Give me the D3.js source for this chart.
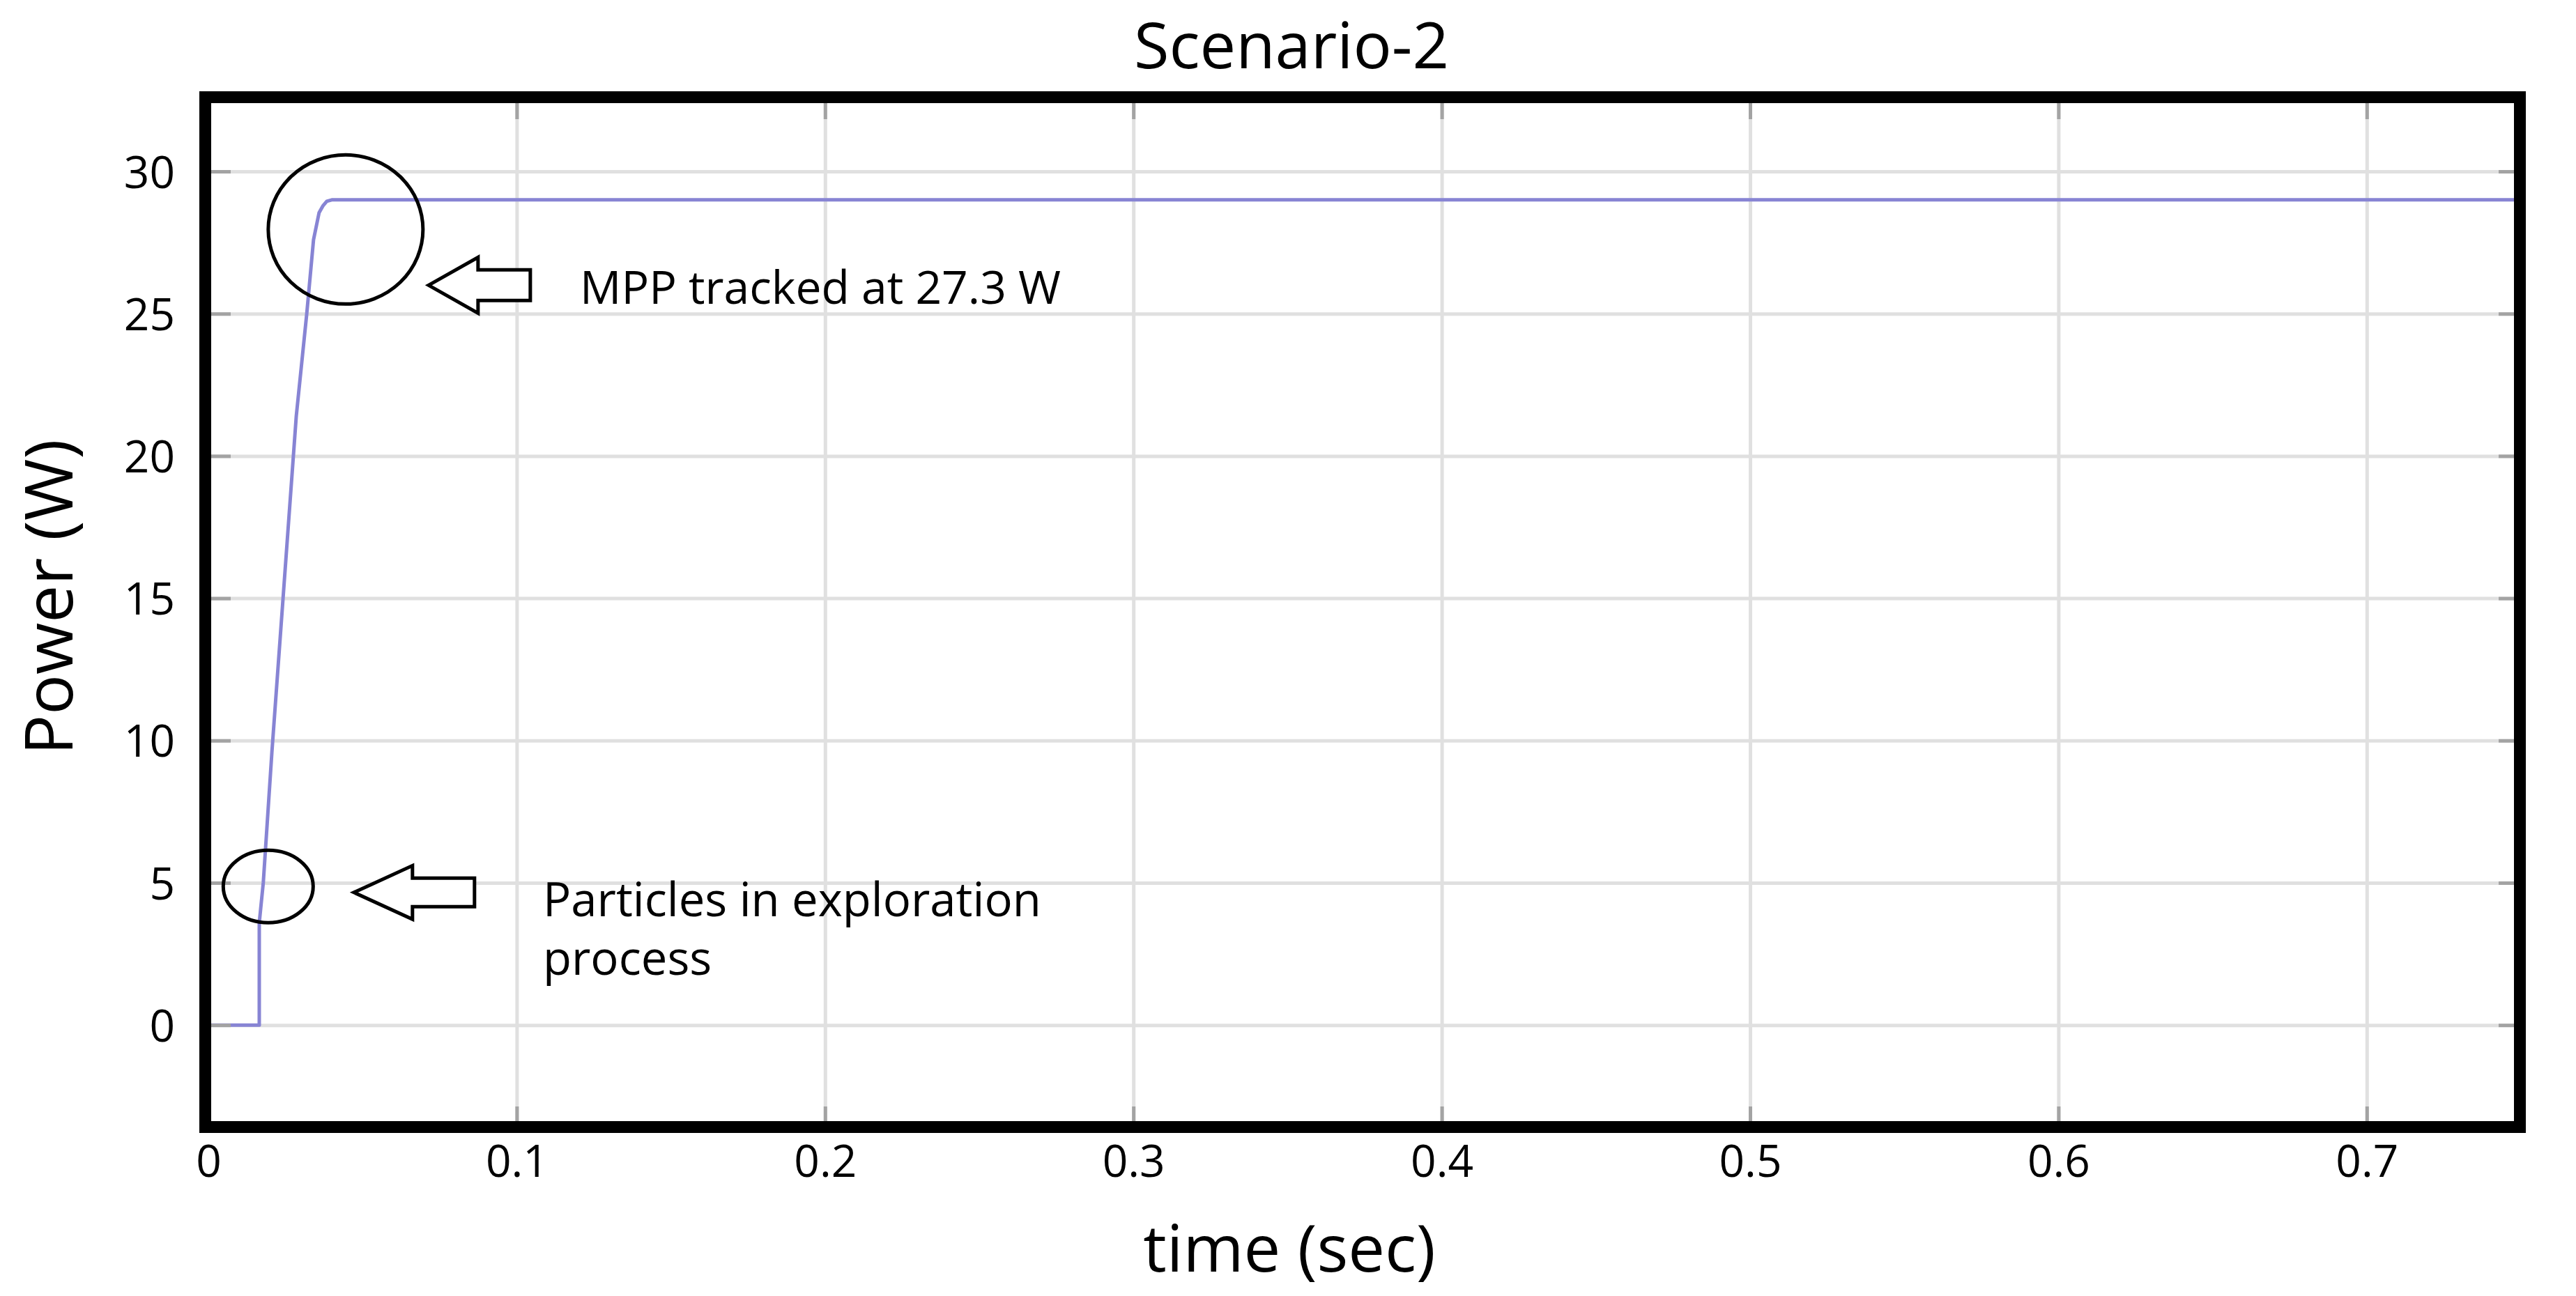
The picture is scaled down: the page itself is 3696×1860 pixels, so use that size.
<!DOCTYPE html>
<html>
<head>
<meta charset="utf-8">
<script src="https://cdn.jsdelivr.net/npm/d3@7"></script>
<style>
  html, body { margin: 0; padding: 0; background: #fff; }
  svg { display: block; font-family: 'Open Sans', sans-serif; }
</style>
</head>
<body>
<svg id="chart" width="3696" height="1860"></svg>
<script>
// power trace
const time = [0, 0.0165, 0.0165, 0.0178, 0.0206, 0.0285, 0.0319, 0.0341, 0.0359, 0.0372, 0.0384, 0.0400, 0.75]
const power = [0, 0, 3.6, 5.0, 9.6, 21.4, 25.0, 27.6, 28.55, 28.8, 28.95, 29.0, 29.0]

const xTicks = [0, 0.1, 0.2, 0.3, 0.4, 0.5, 0.6, 0.7]
const yTicks = [0, 5, 10, 15, 20, 25, 30]

// annotations (data coords)
const markT = [0.0445, 0.0194]
const markP = [27.96, 4.87]
const arrowT = [0.0714, 0.0472]
const arrowP = [26.0, 4.66]
const noteT = [0.1205, 0.1085]
const noteP = [25.34, 3.82]
const noteLines = [['MPP tracked at 27.3 W'], ['Particles in exploration', 'process']]

const svg = d3.select('#chart')

const x = d3.scaleLinear().domain([0, 0.75]).range([299, 3617])
const y = d3.scaleLinear().domain([-3.4, 32.4]).range([1610, 148])

const gridColor = '#e0e0e0'
const tickColor = '#a3a3a3'

svg.append('defs').append('clipPath').attr('id', 'plot-clip')
  .append('rect').attr('x', 303).attr('y', 148).attr('width', 3304).attr('height', 1462)

const plot = svg.append('g').attr('clip-path', 'url(#plot-clip)')

// grid
plot.append('g')
  .attr('transform', `translate(0,${y.range()[0]})`)
  .call(d3.axisBottom(x).tickValues(xTicks).tickSize(-(y.range()[0] - y.range()[1])).tickFormat(''))
  .call(g => g.select('.domain').remove())
  .call(g => g.selectAll('line').attr('stroke', gridColor).attr('stroke-width', 5))

plot.append('g')
  .attr('transform', `translate(${x.range()[0]},0)`)
  .call(d3.axisLeft(y).tickValues(yTicks).tickSize(-(x.range()[1] - x.range()[0])).tickFormat(''))
  .call(g => g.select('.domain').remove())
  .call(g => g.selectAll('line').attr('stroke', gridColor).attr('stroke-width', 5))

// inner ticks on all four sides
const tickStyle = g => {
  g.select('.domain').remove()
  g.selectAll('line').attr('stroke', tickColor).attr('stroke-width', 5)
}

plot.append('g')
  .attr('transform', `translate(0,${y.range()[1]})`)
  .call(d3.axisTop(x).tickValues(xTicks).tickSize(-23).tickFormat(''))
  .call(tickStyle)

plot.append('g')
  .attr('transform', `translate(${x.range()[1]},0)`)
  .call(d3.axisRight(y).tickValues(yTicks).tickSize(-32).tickFormat(''))
  .call(tickStyle)

const xAxis = svg.append('g')
  .attr('transform', `translate(0,${y.range()[0]})`)
  .call(d3.axisBottom(x).tickValues(xTicks).tickSize(-22).tickFormat(d => String(d)))
  .call(tickStyle)
xAxis.selectAll('text')
  .attr('y', 79).attr('dy', 0)
  .attr('fill', '#000')
  .style('font-size', '64px')
  .style('font-family', "'Open Sans', sans-serif")

const yAxis = svg.append('g')
  .attr('transform', `translate(${x.range()[0]},0)`)
  .call(d3.axisLeft(y).tickValues(yTicks).tickSize(-32).tickFormat(d => String(d)))
  .call(tickStyle)
yAxis.selectAll('text')
  .attr('x', -48).attr('dy', '0.36em')
  .attr('fill', '#000')
  .style('font-size', '64px')
  .style('font-family', "'Open Sans', sans-serif")

// power line
const line = d3.line()
  .x((d, i) => x(time[i]))
  .y(d => y(d))

plot.append('path')
  .datum(power)
  .attr('d', line)
  .attr('fill', 'none')
  .attr('stroke', '#8784d4')
  .attr('stroke-width', 5)
  .attr('stroke-linejoin', 'round')

// annotations
const ellipseR = [[111, 107], [64.5, 52]]
markT.forEach((t, i) => {
  svg.append('ellipse')
    .attr('cx', x(t)).attr('cy', y(markP[i]))
    .attr('rx', ellipseR[i][0]).attr('ry', ellipseR[i][1])
    .attr('fill', 'none').attr('stroke', '#000').attr('stroke-width', 5)
})

// left-pointing hollow arrows: [length, head length, head half height, shaft half height]
const arrowDims = [[146, 71, 40, 22], [173, 84, 38.5, 20.5]]
arrowT.forEach((t, i) => {
  const [len, hl, hh, sh] = arrowDims[i]
  const ax = x(t)
  const ay = y(arrowP[i])
  const p = d3.path()
  p.moveTo(ax, ay)
  p.lineTo(ax + hl, ay - hh)
  p.lineTo(ax + hl, ay - sh)
  p.lineTo(ax + len, ay - sh)
  p.lineTo(ax + len, ay + sh)
  p.lineTo(ax + hl, ay + sh)
  p.lineTo(ax + hl, ay + hh)
  p.closePath()
  svg.append('path')
    .attr('d', p.toString())
    .attr('fill', '#fff').attr('stroke', '#000').attr('stroke-width', 5)
    .attr('stroke-linejoin', 'miter')
})

const noteSize = ['66px', '67px']
noteT.forEach((t, i) => {
  const txt = svg.append('text')
    .attr('x', x(t)).attr('y', y(noteP[i]))
    .attr('fill', '#000')
    .style('font-size', noteSize[i])
  noteLines[i].forEach((s, j) => {
    txt.append('tspan').attr('x', x(t)).attr('dy', j === 0 ? 0 : 84).text(s)
  })
})

// frame
svg.append('rect')
  .attr('x', 294.5).attr('y', 139.5)
  .attr('width', 3321).attr('height', 1478)
  .attr('fill', 'none').attr('stroke', '#000').attr('stroke-width', 17)

// titles
svg.append('text')
  .attr('x', 1853).attr('y', 98)
  .attr('text-anchor', 'middle')
  .style('font-size', '92px')
  .text('Scenario-2')

svg.append('text')
  .attr('x', 1850).attr('y', 1825)
  .attr('text-anchor', 'middle')
  .style('font-size', '94px')
  .text('time (sec)')

svg.append('text')
  .attr('transform', 'translate(104,857) rotate(-90)')
  .attr('text-anchor', 'middle')
  .style('font-size', '96px')
  .text('Power (W)')
</script>
</body>
</html>
